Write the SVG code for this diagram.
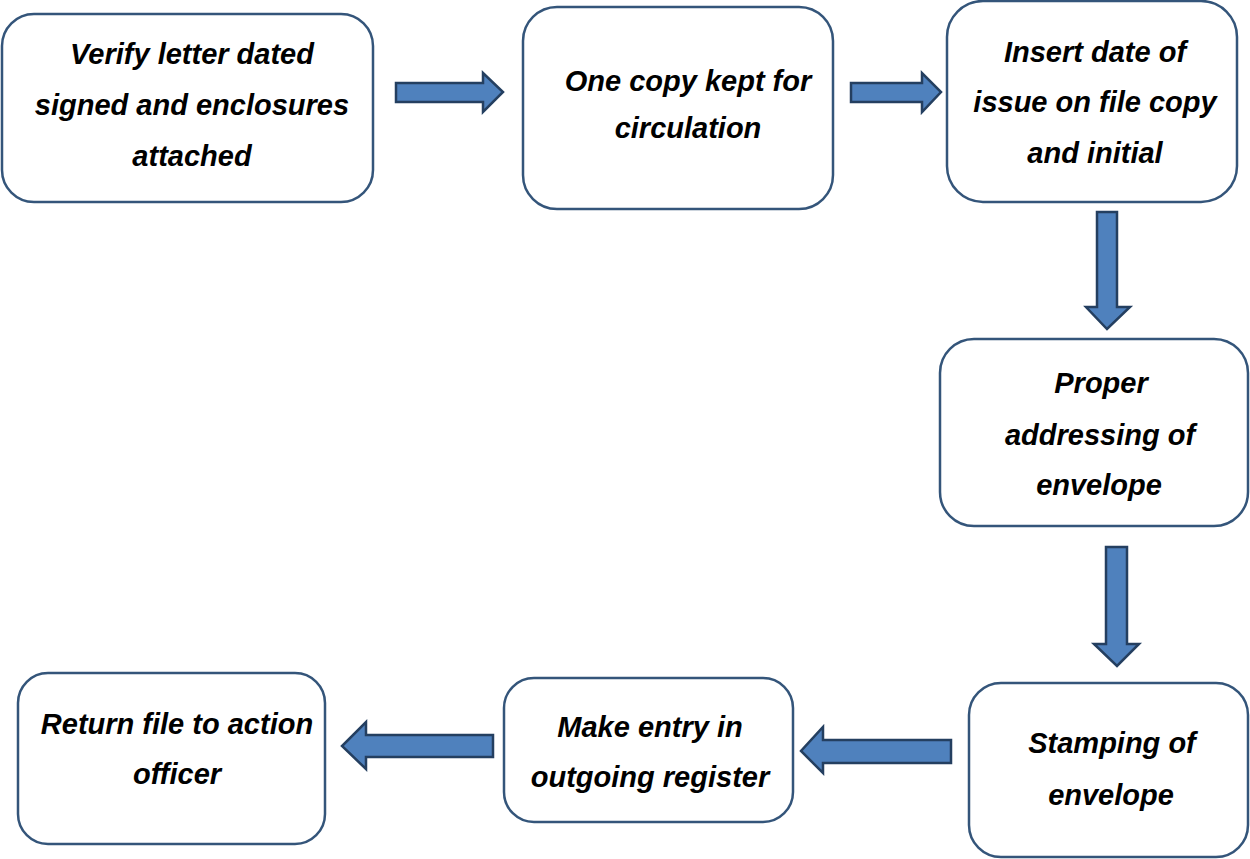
<svg xmlns="http://www.w3.org/2000/svg" width="1250" height="859" viewBox="0 0 1250 859">
  <style>
    .box { fill: #ffffff; stroke: #34557a; stroke-width: 2.5; }
    .arrow { fill: #4f81bd; stroke: #243f60; stroke-width: 2.5; stroke-linejoin: miter; }
    .label { font-family: "Liberation Sans", Arial, sans-serif; font-size: 29px; font-weight: bold; font-style: italic; fill: #000000; text-anchor: middle; }
  </style>
  <rect width="1250" height="859" fill="#ffffff"/>

  <!-- block arrows between steps -->
  <g id="connectors">
    <path class="arrow" d="M396,83 L483,83 L483,73 L503,92 L483,112 L483,102 L396,102 Z"/>
    <path class="arrow" d="M851,83 L922,83 L922,73 L941,92 L922,112 L922,102 L851,102 Z"/>
    <path class="arrow" d="M1097,212 L1117,212 L1117,307 L1130,307 L1107,329 L1086,307 L1097,307 Z"/>
    <path class="arrow" d="M1106,547 L1127,547 L1127,644 L1139,644 L1117,666 L1094,644 L1106,644 Z"/>
    <path class="arrow" d="M951,740 L823,740 L823,727 L801,751 L823,773 L823,763 L951,763 Z"/>
    <path class="arrow" d="M493,735 L366,735 L366,722 L342,746 L366,769 L366,757 L493,757 Z"/>
  </g>

  <g id="verify">
    <rect class="box" x="2" y="14" width="371" height="188" rx="32"/>
    <text class="label"><tspan x="192" y="64">Verify letter dated</tspan><tspan x="192" y="115">signed and enclosures</tspan><tspan x="192" y="166">attached</tspan></text>
  </g>

  <g id="copy">
    <rect class="box" x="523" y="7" width="310" height="202" rx="34"/>
    <text class="label"><tspan x="688" y="91">One copy kept for</tspan><tspan x="688" y="138">circulation</tspan></text>
  </g>

  <g id="insert-date">
    <rect class="box" x="947" y="1" width="290" height="201" rx="36"/>
    <text class="label"><tspan x="1095" y="62">Insert date of</tspan><tspan x="1095" y="112">issue on file copy</tspan><tspan x="1095" y="163">and initial</tspan></text>
  </g>

  <g id="addressing">
    <rect class="box" x="940" y="339" width="308" height="187" rx="34"/>
    <text class="label"><tspan x="1101" y="393">Proper</tspan><tspan x="1100" y="445">addressing of</tspan><tspan x="1099" y="495">envelope</tspan></text>
  </g>

  <g id="stamping">
    <rect class="box" x="969" y="683" width="279" height="174" rx="32"/>
    <text class="label"><tspan x="1112" y="753">Stamping of</tspan><tspan x="1111" y="805">envelope</tspan></text>
  </g>

  <g id="register">
    <rect class="box" x="504" y="678" width="289" height="144" rx="30"/>
    <text class="label"><tspan x="650" y="737">Make entry in</tspan><tspan x="650" y="787">outgoing register</tspan></text>
  </g>

  <g id="return">
    <rect class="box" x="18" y="673" width="307" height="171" rx="30"/>
    <text class="label"><tspan x="177" y="734">Return file to action</tspan><tspan x="177" y="784">officer</tspan></text>
  </g>
</svg>
